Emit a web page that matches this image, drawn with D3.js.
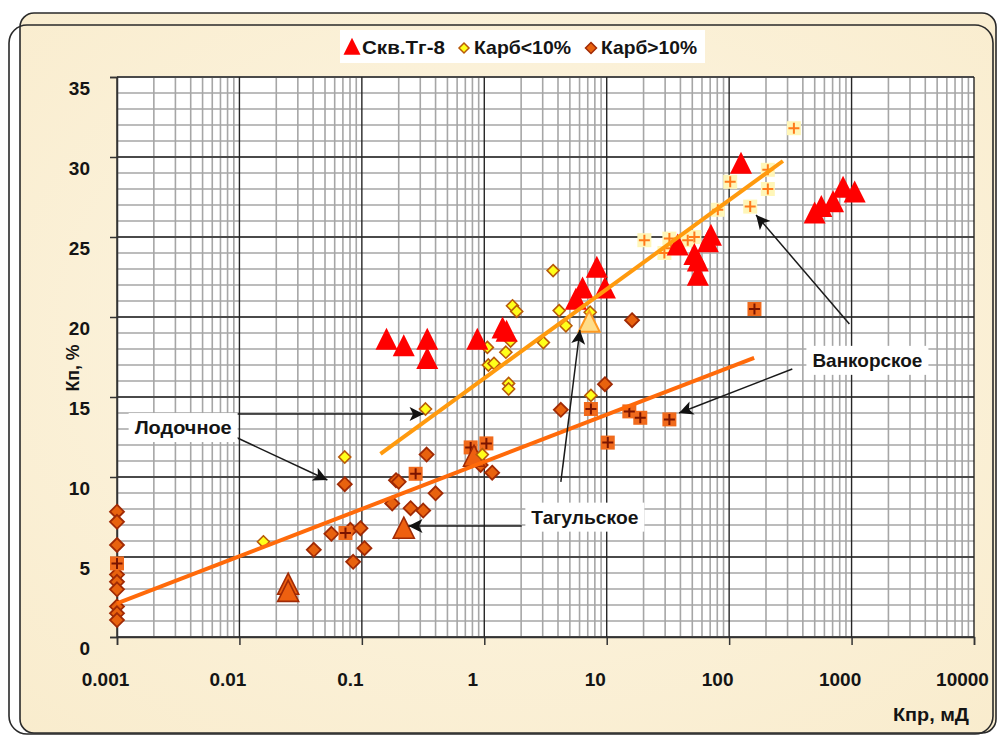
<!DOCTYPE html>
<html><head><meta charset="utf-8">
<script src="https://cdn.jsdelivr.net/npm/d3@7/dist/d3.min.js"></script>
<style>
html,body{margin:0;padding:0;background:#ffffff;}
svg{display:block;}
text{font-family:"Liberation Sans",Arial,sans-serif;font-weight:bold;fill:#141414;}
</style></head>
<body>
<svg id="chart" width="1000" height="736"></svg>
<script>
// ---- data ----
const xTicks = [0.001, 0.01, 0.1, 1, 10, 100, 1000, 10000];
const xTickLabels = ["0.001", "0.01", "0.1", "1", "10", "100", "1000", "10000"];
const yTicks = [0, 5, 10, 15, 20, 25, 30, 35];
const legendNames = ["Скв.Тг-8", "Карб<10%", "Карб>10%"];

const tg8 = [[0.159,18.5],[0.22,18.1],[0.342,18.5],[0.342,17.3],[0.877,18.5],[1.41,19.2],[1.52,19.0],
  [5.6,21.0],[6.35,21.7],[8.3,23.0],[9.67,21.7],[38,24.4],[52,23.8],[55.5,23.4],[55.5,22.5],[67,24.6],[71,25.0],
  [125,29.5],[499,26.4],[566,26.8],[706,27.1],[852,28.0],[1060,27.7]];
const carbLow = [[0.0157,5.95],[0.0725,11.25],[0.331,14.25],[0.964,11.4],[1.06,18.1],[1.08,17.0],[1.2,17.1],
  [1.5,17.8],[1.64,18.5],[1.58,15.85],[1.58,15.5],[1.7,20.7],[1.84,20.35],[3.04,18.4],[3.65,22.9],[4.09,20.4],
  [4.64,19.45],[7.33,20.3],[7.43,15.1]];
const carbHigh = [[0.001,7.83],[0.001,7.2],[0.001,5.75],[0.001,3.9],[0.001,3.45],[0.001,2.98],[0.001,1.9],[0.001,1.48],[0.001,1.06],
  [0.0405,5.45],[0.0564,6.45],[0.0807,6.7],[0.0975,6.8],[0.0849,4.7],[0.105,5.55],[0.0725,9.55],[0.177,8.35],
  [0.19,9.8],[0.2,9.7],[0.25,8.05],[0.317,7.9],[0.4,8.98],[0.338,11.4],[0.934,10.75],[1.16,10.27],[4.22,14.2],
  [9.67,15.8],[16.1,19.8]];
const vankorLight = [[20.3,24.8],[29.6,24.0],[32.5,24.9],[33.5,24.3],[45.9,24.8],[52,25.0],[80.8,26.7],
  [102,28.45],[148.6,26.9],[207,29.2],[207,28.0],[338,31.8]];
const vankorDark = [[0.001,4.6],[0.0735,6.5],[0.275,10.2],[0.774,11.85],[1.04,12.1],[7.43,14.25],[10.2,12.15],
  [15.3,14.1],[18.8,13.7],[32.5,13.6],[161,20.5]];
const tagulTri = [[0.025,3.2],[0.025,2.75],[0.22,6.7],[0.824,11.2]];
const tagulLight = [[7.19,19.6]];
const trendLow = [[0.001,2.1],[160,17.45]];
const trendHigh = [[0.142,11.45],[275,29.75]];

// annotations (data coordinates)
const annoLabels = [["Лодочное",0.00347,13.1],["Тагульское",6.63,7.5],["Ванкорское",1347,17.3]];
const annoArrows = [[0.0089,13.94,0.319,13.94],[0.0089,12.56,0.0523,9.81],
  [2.02,6.94,0.2405,6.94],[4.22,9.69,6.04,19.19],
  [960,19.56,166,26.375],[328,16.75,39,14.0]];

// ---- drawing ----
const svg = d3.select("#chart");
const defs = svg.append("defs");
const grad = defs.append("radialGradient").attr("id","parch").attr("cx","50%").attr("cy","45%").attr("r","75%");
grad.append("stop").attr("offset","0%").attr("stop-color","#fdf6e4");
grad.append("stop").attr("offset","100%").attr("stop-color","#f9eccd");
defs.append("marker").attr("id","arr").attr("viewBox","0 0 10 10").attr("refX",10).attr("refY",5)
  .attr("markerWidth",16).attr("markerHeight",14).attr("markerUnits","userSpaceOnUse").attr("orient","auto")
  .append("path").attr("d","M0,0 L10,5 L0,10 L2.5,5 Z").attr("fill","#111");

// frame
svg.append("rect").attr("x",20).attr("y",13).attr("width",976).attr("height",720).attr("rx",14)
  .attr("fill","url(#parch)").attr("stroke","#2a2a2a").attr("stroke-width",1.6);
svg.append("rect").attr("x",9).attr("y",25).attr("width",984).attr("height",709).attr("rx",18)
  .attr("fill","none").attr("stroke","#2a2a2a").attr("stroke-width",1.6);

const x = d3.scaleLog().domain([0.001, 10000]).range([117, 974]);
const y = d3.scaleLinear().domain([0, 35]).range([637, 77]);

// plot area
svg.append("rect").attr("x",x(0.001)).attr("y",y(35)).attr("width",x(10000)-x(0.001)).attr("height",y(0)-y(35)).attr("fill","#ffffff");

const g = svg.append("g");
const minorX = [];
xTicks.slice(0,-1).forEach(d => { for (let k=2;k<=9;k++) minorX.push(d*k); });
g.selectAll(".mx").data(minorX).enter().append("line")
  .attr("x1",d=>x(d)).attr("x2",d=>x(d)).attr("y1",y(35)).attr("y2",y(0))
  .attr("stroke","#a6a6a6").attr("stroke-width",1.6);
const minorY = d3.range(1,35).filter(v => v%5!==0);
g.selectAll(".my").data(minorY).enter().append("line")
  .attr("x1",x(0.001)).attr("x2",x(10000)).attr("y1",d=>y(d)).attr("y2",d=>y(d))
  .attr("stroke","#a6a6a6").attr("stroke-width",1.6);
g.selectAll(".My").data(yTicks).enter().append("line")
  .attr("x1",x(0.001)).attr("x2",x(10000)).attr("y1",d=>y(d)).attr("y2",d=>y(d))
  .attr("stroke","#4a4a4a").attr("stroke-width",2);
g.selectAll(".Mx").data(xTicks).enter().append("line")
  .attr("x1",d=>x(d)).attr("x2",d=>x(d)).attr("y1",y(35)).attr("y2",y(0))
  .attr("stroke","#262626").attr("stroke-width",1.4);

// axes
const yAxis = svg.append("g").attr("transform",`translate(${x(0.001)},0)`)
  .call(d3.axisLeft(y).tickValues(yTicks).tickSize(7).tickPadding(20).tickFormat(d3.format("d")));
yAxis.select(".domain").attr("stroke","#333").attr("stroke-width",1.5);
yAxis.selectAll(".tick line").attr("stroke","#333").attr("stroke-width",1.5);
yAxis.selectAll(".tick text").attr("dy","0.9em").style("font-size","19px").attr("fill","#141414");

const xAxis = svg.append("g").attr("transform",`translate(0,${y(0)})`)
  .call(d3.axisBottom(x).tickValues(xTicks).tickSize(8).tickPadding(28).tickFormat((d,i)=>xTickLabels[i]));
xAxis.select(".domain").attr("stroke","#333").attr("stroke-width",1.5);
xAxis.selectAll(".tick text").attr("dx",-12).style("font-size","19px").attr("fill","#141414");
xAxis.selectAll(".tick line").attr("stroke","#333").attr("stroke-width",1.5);

svg.append("text").attr("transform","translate(79,368) rotate(-90)").attr("text-anchor","middle")
  .style("font-size","18px").attr("textLength",47).attr("lengthAdjust","spacingAndGlyphs").text("Кп, %");
svg.append("text").attr("x",931).attr("y",721).attr("text-anchor","middle")
  .style("font-size","18px").attr("textLength",76).attr("lengthAdjust","spacingAndGlyphs").text("Кпр, мД");

// shapes
const tri = s => `M0,${-s*0.6}L${s*0.5},${s*0.4}L${-s*0.5},${s*0.4}Z`;
const dia = s => `M0,${-s}L${s},0L0,${s}L${-s},0Z`;
const sq = s => `M${-s},${-s}H${s}V${s}H${-s}Z`;
const plus = s => `M${-s},0H${s}M0,${-s}V${s}`;
const pts = svg.append("g");
function drawSym(data, pathFn, fill, stroke, sw) {
  pts.append("g").selectAll("path").data(data).enter().append("path")
    .attr("transform", d => `translate(${x(d[0])},${y(d[1])})`)
    .attr("d", pathFn).attr("fill", fill).attr("stroke", stroke).attr("stroke-width", sw);
}
const line = d3.line().x(d=>x(d[0])).y(d=>y(d[1]));
drawSym(carbHigh, ()=>dia(7), "#e8620e", "#a02a05", 1.8);
drawSym(vankorDark, ()=>sq(7), "#f06a1c", "none", 0);
drawSym(vankorDark, ()=>plus(5.5), "none", "#7a1400", 2);
drawSym(tagulTri, ()=>tri(21), "#ee6010", "#a02a05", 1.6);
svg.append("path").datum(trendLow).attr("d",line).attr("stroke","#ff6a0a").attr("stroke-width",4).attr("fill","none");
drawSym(carbLow, ()=>dia(6), "#ffff1a", "#b85a0a", 1.6);
drawSym(vankorLight, ()=>sq(7), "#fff6b8", "none", 0);
drawSym(vankorLight, ()=>plus(5.5), "none", "#ff7a1a", 2);
drawSym(tagulLight, ()=>tri(21), "#ffdd88", "#ff9a22", 2);
drawSym(tg8, ()=>tri(22), "#ff0000", "none", 0);
svg.append("path").datum(trendHigh).attr("d",line).attr("stroke","#ff9a0e").attr("stroke-width",4).attr("fill","none");

// annotations
const ann = svg.append("g");
ann.selectAll("line").data(annoArrows).enter().append("line")
  .attr("x1",d=>x(d[0])).attr("y1",d=>y(d[1])).attr("x2",d=>x(d[2])).attr("y2",d=>y(d[3]))
  .attr("stroke","#1a1a1a").attr("stroke-width",1.5).attr("marker-end","url(#arr)");
const annoWidths = [97, 107, 110];
annoLabels.forEach((a,i) => {
  const t = ann.append("text").attr("x",x(a[1])).attr("y",y(a[2])).attr("dy","0.35em")
    .attr("text-anchor","middle").style("font-size","19px")
    .attr("textLength",annoWidths[i]).attr("lengthAdjust","spacingAndGlyphs").text(a[0]);
  const b = t.node().getBBox();
  ann.insert("rect","text").attr("x",b.x-6).attr("y",b.y-4).attr("width",b.width+12).attr("height",b.height+8).attr("fill","#fff");
});
ann.selectAll("text").raise();

// legend
const leg = svg.append("g");
leg.append("rect").attr("x",340).attr("y",30).attr("width",365).attr("height",33).attr("fill","#fff");
const legItems = [
  {name:legendNames[0], sym:tri(17), fill:"#ff0000", stroke:"none", sw:0, sx:352, tx:362, w:83},
  {name:legendNames[1], sym:dia(5), fill:"#ffff1a", stroke:"#b85a0a", sw:1.5, sx:464, tx:474, w:97},
  {name:legendNames[2], sym:dia(5.5), fill:"#e8620e", stroke:"#a02a05", sw:1.5, sx:591, tx:601, w:96}
];
legItems.forEach(it => {
  leg.append("path").attr("d",it.sym).attr("transform",`translate(${it.sx},48)`)
    .attr("fill",it.fill).attr("stroke",it.stroke).attr("stroke-width",it.sw);
  leg.append("text").attr("x",it.tx).attr("y",47).attr("dy","0.35em").style("font-size","19px")
    .attr("textLength",it.w).attr("lengthAdjust","spacingAndGlyphs").text(it.name);
});
</script>
</body></html>
